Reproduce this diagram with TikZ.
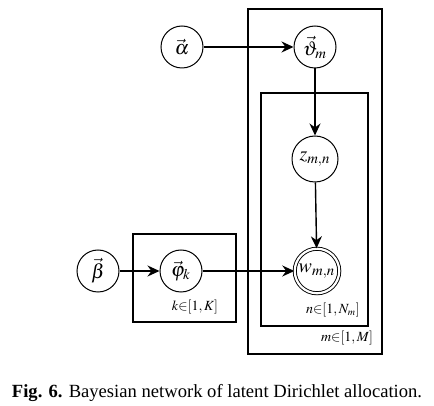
\documentclass[tikz,border=0pt]{standalone}
\usepackage{mathptmx}
\usepackage{fontspec}
\setmainfont{Liberation Serif}
\usepackage{amsmath}
\usepackage{amssymb}
\usetikzlibrary{arrows.meta, calc}

\begin{document}
\begin{tikzpicture}[x=0.5pt, y=-0.5pt, node distance=56pt]

\tikzstyle{latentvar} = [circle, draw=black, line width=0.5pt, minimum size=21pt, inner sep=1pt, text centered]
\tikzstyle{observedvar} = [circle, draw=black, line width=0.45pt, double, double distance=1.1pt, minimum size=21pt, inner sep=1pt, text centered]
\tikzstyle{platebox} = [draw=black, line width=0.65pt]
\tikzstyle{platelabel} = [inner sep=0pt, font=\scriptsize]

\tikzstyle{arrow} = [line width=0.7pt, -{Stealth[length=6pt, width=5.5pt]}]

\useasboundingbox (0,0) rectangle (434,406);

\node (alpha) [latentvar] at (182,47) {$\vec{\alpha}$};
\node (theta) [latentvar, right of = alpha, xshift = 10.5pt] {$\vec{\vartheta}_m$};
\node (z) [latentvar, below of = theta, minimum size=23pt] {$z_{m,n}$};
\node (w) [observedvar, below of = z, xshift = 1pt] {$w_{m,n}$};
\node (phi) [latentvar, left of = w, xshift = -12pt] {$\vec{\varphi}_k$};
\node (beta) [latentvar, left of = phi, xshift = 14.5pt] {$\vec{\beta}$};

% plates
\draw [platebox] (248,9) rectangle (382,354);
\draw [platebox] (261,93) rectangle (368,326);
\draw [platebox] (133,234) rectangle (236,322);
\node (klabel) [platelabel] at (195,307) {$k{\in}[1,K]$};
\node (nlabel) [platelabel] at (333,310) {$n{\in}[1,N_m]$};
\node (mlabel) [platelabel] at (347,338) {$m{\in}[1,M]$};

\draw [arrow] (alpha) -- (theta);
\draw [arrow] (theta) -- (z);
\draw [arrow] (z) -- (w);
\draw [arrow] (beta) -- (phi);
\draw [arrow] (phi) -- (w);

\node (caption) [font=\fontsize{9.3}{11}\selectfont] at (217,393) {\textbf{Fig. 6.} Bayesian network of latent Dirichlet allocation.};

\end{tikzpicture}
\end{document}
